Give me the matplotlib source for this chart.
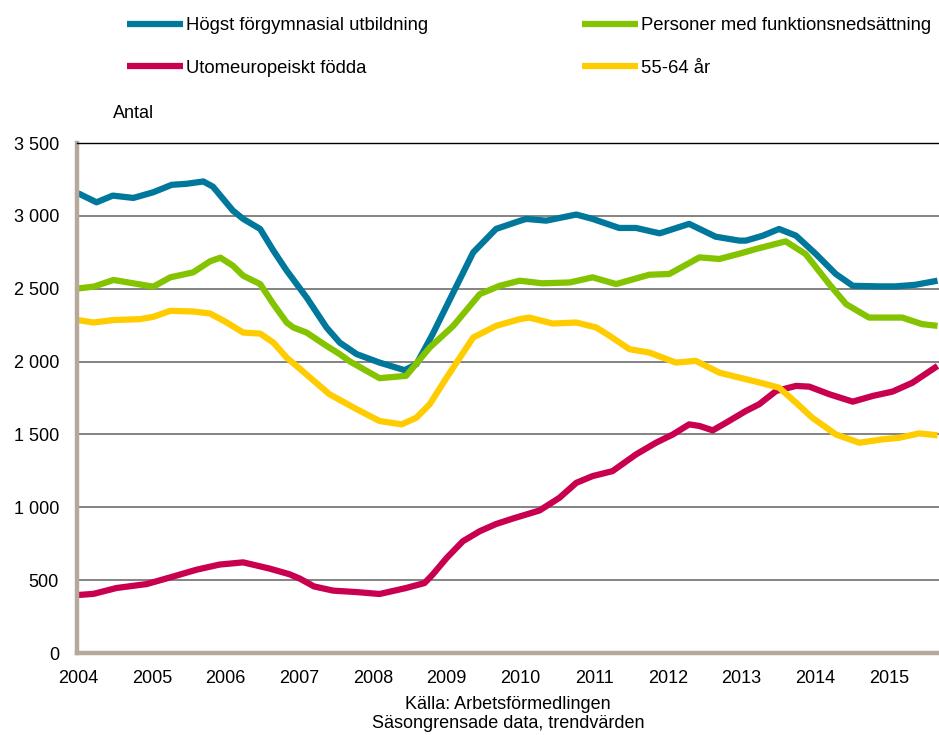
import matplotlib
matplotlib.use("Agg")
import matplotlib.pyplot as plt
from matplotlib.ticker import FuncFormatter

plt.rcParams['font.family'] = ['Liberation Sans', 'DejaVu Sans']

# ----------------------------------------------
# Data (decimal years)
# ----------------------------------------------
blue_t = [2004.0, 2004.25, 2004.47, 2004.75, 2005.02, 2005.27, 2005.47, 2005.7,
          2005.83, 2006.1, 2006.24, 2006.47, 2006.65, 2006.83, 2007.1, 2007.37,
          2007.55, 2007.78, 2008.09, 2008.43, 2008.59, 2008.81, 2009.09,
          2009.36, 2009.67, 2009.99, 2010.08, 2010.35, 2010.76, 2010.98, 2011.34,
          2011.57, 2011.89, 2012.29, 2012.65, 2012.97, 2013.06, 2013.29, 2013.51,
          2013.74, 2014.01, 2014.28, 2014.51, 2014.87, 2015.09, 2015.36, 2015.66]
blue_v = [3155, 3093, 3139, 3123, 3162, 3213, 3220, 3236,
          3200, 3036, 2979, 2910, 2761, 2624, 2440, 2234,
          2130, 2051, 1993, 1941, 1982, 2188, 2474,
          2749, 2910, 2965, 2979, 2967, 3009, 2979, 2917,
          2917, 2880, 2945, 2857, 2830, 2830, 2864, 2910,
          2864, 2738, 2601, 2520, 2516, 2516, 2527, 2555]

green_t = [2004.0, 2004.21, 2004.48, 2004.75, 2005.02, 2005.25, 2005.56, 2005.79,
           2005.93, 2006.1, 2006.24, 2006.47, 2006.65, 2006.83, 2006.92, 2007.1,
           2007.37, 2007.55, 2007.69, 2008.09, 2008.45, 2008.77, 2009.09, 2009.45,
           2009.72, 2009.99, 2010.3, 2010.67, 2010.98, 2011.3, 2011.75, 2012.02,
           2012.43, 2012.7, 2012.97, 2013.2, 2013.6, 2013.87, 2014.19, 2014.42,
           2014.73, 2015.18, 2015.45, 2015.66]
green_v = [2502, 2514, 2560, 2537, 2514, 2578, 2612, 2688,
           2713, 2658, 2589, 2532, 2394, 2268, 2234, 2199,
           2108, 2051, 2000, 1886, 1902, 2096, 2245, 2463,
           2520, 2555, 2537, 2543, 2578, 2532, 2596, 2601,
           2715, 2704, 2740, 2773, 2825, 2738, 2532, 2394,
           2302, 2302, 2257, 2245]

red_t = [2004.0, 2004.21, 2004.52, 2004.93, 2005.25, 2005.61, 2005.92, 2006.24,
         2006.6, 2006.87, 2007.01, 2007.2, 2007.46, 2007.78, 2008.09, 2008.45,
         2008.7, 2008.81, 2009.0, 2009.22, 2009.45, 2009.67, 2009.9, 2010.26,
         2010.53, 2010.76, 2010.98, 2011.25, 2011.57, 2011.84, 2012.07, 2012.29,
         2012.43, 2012.61, 2012.79, 2013.06, 2013.24, 2013.47, 2013.74, 2013.92,
         2014.19, 2014.51, 2014.78, 2015.05, 2015.32, 2015.66]
red_v = [398, 406, 446, 473, 519, 572, 607, 622,
         579, 540, 510, 457, 428, 418, 405, 446,
         480, 538, 652, 767, 836, 885, 923, 978,
         1065, 1168, 1214, 1248, 1363, 1443, 1500, 1569,
         1558, 1528, 1580, 1661, 1707, 1798, 1833, 1828,
         1776, 1725, 1764, 1794, 1855, 1970]

yellow_t = [2004.0, 2004.21, 2004.48, 2004.84, 2005.02, 2005.25, 2005.56, 2005.79,
            2006.01, 2006.24, 2006.47, 2006.65, 2006.83, 2007.01, 2007.41, 2007.78,
            2008.09, 2008.39, 2008.59, 2008.77, 2009.0, 2009.36, 2009.67, 2009.99,
            2010.12, 2010.44, 2010.76, 2011.03, 2011.21, 2011.48, 2011.75, 2012.11,
            2012.38, 2012.7, 2012.97, 2013.2, 2013.51, 2013.74, 2013.96, 2014.28,
            2014.6, 2014.91, 2015.14, 2015.41, 2015.66]
yellow_v = [2285, 2268, 2285, 2291, 2307, 2348, 2344, 2330,
            2270, 2199, 2192, 2130, 2027, 1950, 1776, 1673,
            1592, 1569, 1615, 1707, 1890, 2165, 2245, 2291,
            2302, 2261, 2268, 2234, 2177, 2085, 2062, 1993,
            2005, 1924, 1890, 1862, 1821, 1718, 1615, 1500,
            1443, 1466, 1477, 1507, 1494]

labels = ["Högst förgymnasial utbildning", "Utomeuropeiskt födda",
          "Personer med funktionsnedsättning", "55-64 år"]
colors = ["#00789C", "#C8004F", "#84C300", "#FFCC00"]
years = list(range(2004, 2016))
yticks = list(range(0, 3501, 500))

# ----------------------------------------------
# Plot
# ----------------------------------------------
fig = plt.figure(figsize=(9.39, 7.35), dpi=100)
ax = fig.add_axes([77 / 939, 1 - 653 / 735, 1 - 77 / 939, (653 - 143) / 735])

series = [(blue_t, blue_v), (red_t, red_v), (green_t, green_v), (yellow_t, yellow_v)]
for (t, v), lab, c in zip(series, labels, colors):
    ax.plot(t, v, color=c, linewidth=4.5, label=lab,
            solid_joinstyle='round', solid_capstyle='butt')

ax.set_xlim(2003.985, 2015.68)
ax.set_ylim(0, 3500)
ax.set_xticks(years)
ax.set_yticks(yticks)
ax.yaxis.set_major_formatter(FuncFormatter(lambda v, p: f"{int(v):,}".replace(",", " ")))
ax.tick_params(axis='both', length=0, labelsize=13)
ax.tick_params(axis='x', pad=12)
ax.tick_params(axis='y', pad=13)

ax.grid(axis='y', color='#6e6e6e', linewidth=1.2)
ax.set_axisbelow(True)
ax.spines['right'].set_visible(False)
ax.spines['top'].set_color('black')
ax.spines['top'].set_linewidth(1.0)
for s in ['left', 'bottom']:
    ax.spines[s].set_color('#B4A99B')
    ax.spines[s].set_linewidth(3.2)

fig.legend(loc='upper left', bbox_to_anchor=(127 / 939, 1 - 17 / 735), ncol=2,
           frameon=False, fontsize=13.3, handlelength=3.05, handletextpad=0.15,
           columnspacing=8.3, labelspacing=1.4, borderpad=0, borderaxespad=0)

fig.text(113 / 939, 1 - 113 / 735, "Antal", fontsize=13, ha='left', va='center')
fig.text(508 / 939, 1 - 714 / 735, "Källa: Arbetsförmedlingen\nSäsongrensade data, trendvärden",
         fontsize=13, ha='center', va='center', linespacing=1.1)

fig.savefig("out.png", dpi=100)
